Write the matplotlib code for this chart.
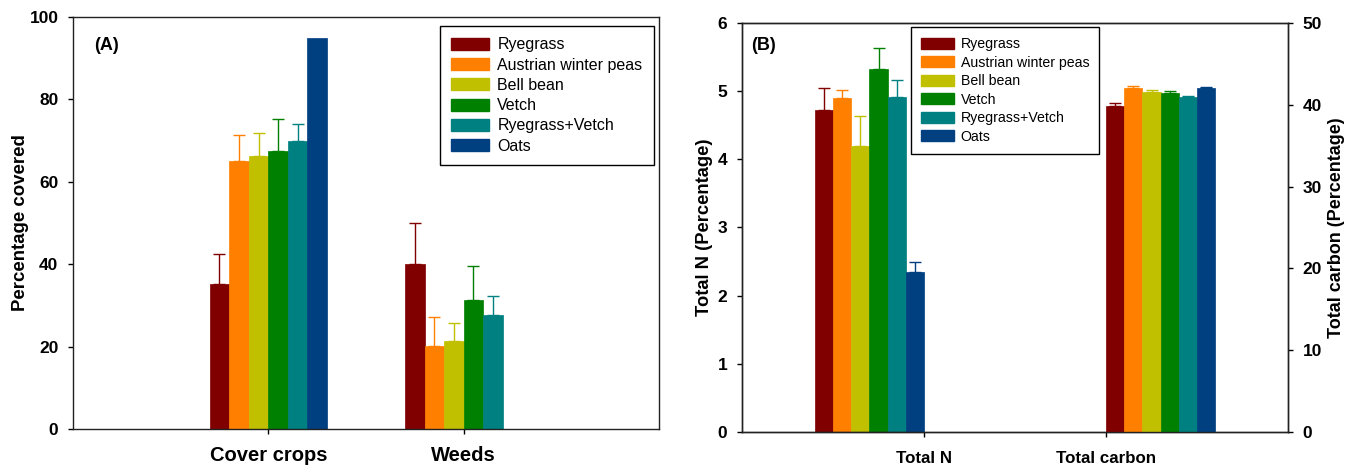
import numpy as np
import matplotlib
matplotlib.use('Agg')
import matplotlib.pyplot as plt
from matplotlib.patches import Patch

plt.rcParams['font.family'] = ['Liberation Sans', 'DejaVu Sans']

species = ['Ryegrass', 'Austrian winter peas', 'Bell bean', 'Vetch',
           'Ryegrass+Vetch', 'Oats']
colors = ['#800000', '#ff8000', '#c0c000', '#008000', '#008080', '#003f80']

# panel A: percentage covered
cover_labels = ['Cover crops', 'Weeds']
cover_mean = [35.1, 65.1, 66.3, 67.5, 70.0, 95.0]
cover_err = [7.3, 6.3, 5.5, 7.7, 4.0, np.nan]
weeds_mean = [40.1, 20.2, 21.4, 31.3, 27.7, np.nan]
weeds_err = [10.0, 7.0, 4.3, 8.2, 4.7, np.nan]

# panel B: total N (left axis) and total carbon (right axis)
b_labels = ['Total N', 'Total carbon']
n_mean = [4.72, 4.90, 4.20, 5.32, 4.91, 2.34]
n_err = [0.32, 0.12, 0.44, 0.32, 0.26, 0.15]
c_mean = [39.8, 42.1, 41.6, 41.5, 40.9, 42.0]
c_err = [0.4, 0.2, 0.2, 0.2, 0.2, 0.2]

width = 0.1
bold = dict(fontweight='bold')


def draw_group(ax, center, means, errs):
    # six bars side by side, upper error bar only
    start = center - 3 * width + width / 2
    for i, (m, e) in enumerate(zip(means, errs)):
        if np.isnan(m):
            continue
        x = start + i * width
        ax.bar(x, m, width, color=colors[i], edgecolor=colors[i], linewidth=0.5)
        if not np.isnan(e):
            ax.errorbar(x, m, yerr=[[0], [e]], color=colors[i], lw=1,
                        capsize=4.5, capthick=1, fmt='none')


def style_axis(ax):
    for s in ax.spines.values():
        s.set_linewidth(1.0)
        s.set_color('#222222')
    ax.tick_params(axis='y', direction='out', length=3.5, width=1,
                   labelsize=12.5, pad=7)
    ax.tick_params(axis='x', direction='out', length=3.5, width=1)
    for lab in ax.get_yticklabels():
        lab.set_fontweight('bold')


def add_legend(ax, size, anchor, spacing, hlen, hheight):
    handles = [Patch(facecolor=c, edgecolor=c) for c in colors]
    ax.legend(handles, species, loc='upper left', bbox_to_anchor=anchor,
              fontsize=size, frameon=True, fancybox=False, edgecolor='black',
              framealpha=1, handlelength=hlen, handleheight=hheight,
              labelspacing=spacing, borderpad=0.7, handletextpad=0.5,
              borderaxespad=0)


fig = plt.figure(figsize=(13.54, 4.66), dpi=100)

# ---- panel A
ax1 = fig.add_axes([0.0539, 0.0794, 0.4328, 0.884])
draw_group(ax1, 0, cover_mean, cover_err)
draw_group(ax1, 1, weeds_mean, weeds_err)
ax1.set_xlim(-1, 2)
ax1.set_ylim(0, 100)
ax1.set_yticks(range(0, 101, 20))
ax1.set_xticks([0, 1])
ax1.set_xticklabels(cover_labels, fontsize=14.5, fontweight='bold')
ax1.tick_params(axis='x', pad=8.5)
ax1.set_ylabel('Percentage covered', fontsize=13.4, fontweight='bold', labelpad=0)
style_axis(ax1)
ax1.text(0.036, 0.932, '(A)', transform=ax1.transAxes, fontsize=13,
         va='center', **bold)
add_legend(ax1, 11.5, (0.626, 0.978), 0.33, 2.4, 0.77)

# ---- panel B
ax2 = fig.add_axes([0.548, 0.073, 0.4033, 0.8777])
draw_group(ax2, -0.3, n_mean, n_err)
ax2.set_xlim(-1, 2)
ax2.set_ylim(0, 6)
ax2.set_yticks(range(0, 7))
ax2.set_xticks([0, 1])
ax2.set_xticklabels(b_labels, fontsize=12.2, fontweight='bold')
ax2.tick_params(axis='x', pad=10)
ax2.set_ylabel('Total N (Percentage)', fontsize=13.2, fontweight='bold',
               labelpad=3)
style_axis(ax2)

ax3 = ax2.twinx()
draw_group(ax3, 1.3, c_mean, c_err)
ax3.set_ylim(0, 50)
ax3.set_yticks(range(0, 51, 10))
ax3.set_ylabel('Total carbon (Percentage)', fontsize=13, fontweight='bold',
               labelpad=4)
style_axis(ax3)
ax2.text(0.016, 0.946, '(B)', transform=ax2.transAxes, fontsize=13,
         va='center', **bold)
add_legend(ax3, 10.2, (0.3095, 0.99), 0.32, 2.3, 0.82)

fig.savefig('out.png', dpi=100)
